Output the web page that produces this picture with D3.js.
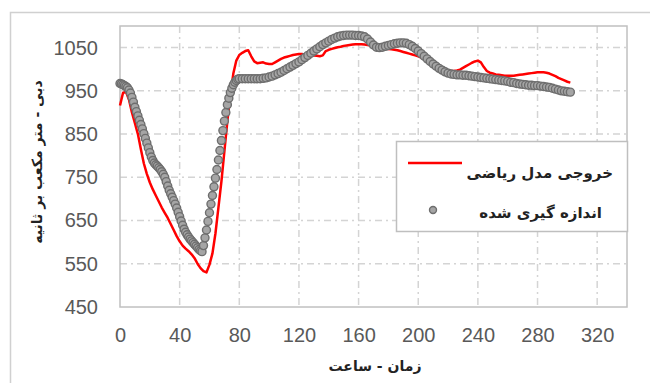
<!DOCTYPE html>
<html>
<head>
<meta charset="utf-8">
<script src="https://cdn.jsdelivr.net/npm/d3@7"></script>
<style>
  body { margin: 0; background: #fff; }
  svg { display: block; }
</style>
</head>
<body>
<section></section>
<script>
// tick values
var xTicks = [0, 40, 80, 120, 160, 200, 240, 280, 320]
var yTicks = [450, 550, 650, 750, 850, 950, 1050]

// measured flow (grey circles): hourly for 0..80 h, then every 2 h from 82 h
var measuredHourly = [967, 966, 964, 962, 960, 957, 952, 945, 935, 924,
  912, 902, 892, 882, 872, 862, 851, 840, 829, 818,
  807, 797, 789, 783, 779, 776, 772, 768, 763, 757,
  750, 740, 730, 720, 712, 704, 696, 688, 679, 669,
  659, 649, 639, 630, 623, 617, 612, 607, 603, 599,
  595, 591, 587, 583, 580, 578, 592, 610, 628, 648,
  668, 688, 708, 728, 748, 768, 790, 812, 835, 858,
  880, 900, 918, 933, 946, 956, 964, 970, 974, 977, 978]
var measuredTwoHourly = [978, 978, 978, 978, 978, 978, 978, 979, 980, 982,
  984, 987, 990, 993, 997, 1001, 1005, 1009, 1013, 1017,
  1022, 1027, 1032, 1037, 1042, 1047, 1052, 1057, 1061, 1065,
  1069, 1072, 1075, 1077, 1078, 1079, 1079, 1079, 1078, 1078,
  1077, 1075, 1070, 1063, 1056, 1051, 1050, 1051, 1053, 1055,
  1057, 1059, 1060, 1061, 1061, 1060, 1057, 1053, 1048, 1042,
  1036, 1030, 1024, 1018, 1012, 1007, 1002, 998, 994, 991,
  989, 988, 987, 987, 986, 986, 985, 984, 983, 982,
  981, 980, 979, 978, 977, 976, 975, 974, 973, 972,
  970, 969, 967, 966, 965, 964, 963, 963, 962, 962,
  961, 960, 959, 958, 956, 954, 952, 950, 949, 948, 947]

// model output (red line), every 2 h from 0 h
var modelFlow = [916, 945, 948, 930, 900, 875, 850, 815, 782, 758,
  738, 722, 708, 694, 680, 668, 656, 642, 628, 614,
  602, 592, 585, 579, 572, 563, 550, 540, 533, 530,
  548, 574, 620, 680, 740, 810, 880, 940, 990, 1020,
  1033, 1038, 1042, 1044, 1030, 1018, 1014, 1015, 1016, 1013,
  1012, 1012, 1016, 1020, 1024, 1027, 1029, 1031, 1033, 1034,
  1035, 1035, 1034, 1033, 1032, 1032, 1031, 1030, 1032, 1042,
  1045, 1047, 1049, 1051, 1052, 1054, 1055, 1056, 1057, 1058,
  1058, 1058, 1057, 1056, 1055, 1054, 1052, 1050, 1049, 1048,
  1047, 1046, 1045, 1044, 1042, 1040, 1038, 1036, 1034, 1032,
  1030, 1027, 1024, 1020, 1017, 1013, 1009, 1005, 1002, 999,
  997, 996, 996, 997, 999, 1003, 1007, 1011, 1015, 1018,
  1020, 1016, 1005, 996, 992, 990, 988, 987, 986, 985,
  985, 985, 985, 986, 987, 988, 989, 990, 991, 992,
  993, 993, 993, 992, 990, 987, 984, 980, 977, 974,
  971, 969]

var legendLabels = ["خروجی مدل ریاضی", "اندازه گیری شده"]

var width = 650
var height = 383
var margin = { top: 26, right: 23, bottom: 76, left: 120 }

var measured = measuredHourly.map(function (v, i) { return { t: i, v: v } })
  .concat(measuredTwoHourly.map(function (v, i) { return { t: 82 + i * 2, v: v } }))
var model = modelFlow.map(function (v, i) { return { t: i * 2, v: v } })

var svg = d3.select("section").append("svg")
  .attr("width", width)
  .attr("height", height)

// outer chart frame
svg.append("rect")
  .attr("x", 10.5).attr("y", 12.5)
  .attr("width", 660).attr("height", 400)
  .attr("fill", "none").attr("stroke", "#d0d0d0").attr("stroke-width", 1.5)

var x = d3.scaleLinear().domain([0, 340]).range([margin.left, width - margin.right])
var y = d3.scaleLinear().domain([450, 1100]).range([height - margin.bottom, margin.top])

// grid (dash-dot)
var grid = svg.append("g").attr("stroke", "#d4d4d4").attr("stroke-width", 1.5)
  .attr("stroke-dasharray", "7,4,2,4")
grid.selectAll(".gx").data(xTicks.slice(1)).enter().append("line")
  .attr("x1", function (d) { return x(d) }).attr("x2", function (d) { return x(d) })
  .attr("y1", y(1100)).attr("y2", y(450))
grid.selectAll(".gy").data(yTicks.slice(1)).enter().append("line")
  .attr("y1", function (d) { return y(d) }).attr("y2", function (d) { return y(d) })
  .attr("x1", x(0)).attr("x2", x(340))

// plot frame
svg.append("rect")
  .attr("x", x(0)).attr("y", y(1100))
  .attr("width", x(340) - x(0)).attr("height", y(450) - y(1100))
  .attr("fill", "none").attr("stroke", "#c0c0c0").attr("stroke-width", 1.5)

// axes
var ejeX = d3.axisBottom(x).tickValues(xTicks).tickFormat(d3.format("d")).tickSize(0).tickPadding(21)
var ejeY = d3.axisLeft(y).tickValues(yTicks).tickFormat(d3.format("d")).tickSize(0).tickPadding(22)

var gx = svg.append("g").attr("transform", "translate(0," + y(450) + ")").call(ejeX)
var gy = svg.append("g").attr("transform", "translate(" + x(0) + ",0)").call(ejeY)
;[gx, gy].forEach(function (g) {
  g.select(".domain").remove()
  g.selectAll("text")
    .attr("font-family", "Liberation Sans, Arial, sans-serif")
    .attr("font-size", 20)
    .attr("fill", "#595959")
})

// model line
svg.append("path")
  .datum(model)
  .attr("fill", "none")
  .attr("stroke", "#ff0000")
  .attr("stroke-width", 2.5)
  .attr("stroke-linejoin", "round")
  .attr("d", d3.line().x(function (d) { return x(d.t) }).y(function (d) { return y(d.v) }))

// measured markers
svg.append("g").selectAll("circle").data(measured).enter().append("circle")
  .attr("cx", function (d) { return x(d.t) })
  .attr("cy", function (d) { return y(d.v) })
  .attr("r", 4)
  .attr("fill", "#a5a5a5")
  .attr("stroke", "#6e6e6e")
  .attr("stroke-width", 1.4)

// legend
var legend = svg.append("g")
legend.append("rect")
  .attr("x", 396.5).attr("y", 141.5).attr("width", 231).attr("height", 90)
  .attr("fill", "#fff").attr("stroke", "#bfbfbf").attr("stroke-width", 1.5)
legend.append("line")
  .attr("x1", 408).attr("x2", 462).attr("y1", 163).attr("y2", 163)
  .attr("stroke", "#ff0000").attr("stroke-width", 2.5)
legend.append("circle")
  .attr("cx", 433).attr("cy", 210).attr("r", 3.5)
  .attr("fill", "#a5a5a5").attr("stroke", "#6e6e6e").attr("stroke-width", 1.4)
legend.selectAll("text").data(legendLabels).enter().append("text")
  .attr("x", function (d, i) { return i === 0 ? 613 : 602 })
  .attr("y", function (d, i) { return i === 0 ? 178 : 218 })
  .attr("text-anchor", "start")
  .attr("direction", "rtl")
  .attr("font-family", "DejaVu Sans, sans-serif")
  .attr("font-weight", "bold")
  .attr("font-size", 15)
  .attr("fill", "#222")
  .text(function (d) { return d })

// axis titles
svg.append("text")
  .attr("x", 375).attr("y", 371)
  .attr("text-anchor", "middle")
  .attr("direction", "rtl")
  .attr("font-family", "DejaVu Sans, sans-serif")
  .attr("font-weight", "bold")
  .attr("font-size", 14)
  .attr("fill", "#222")
  .text("زمان - ساعت")

svg.append("text")
  .attr("transform", "translate(42,162) rotate(-90)")
  .attr("text-anchor", "middle")
  .attr("direction", "rtl")
  .attr("font-family", "DejaVu Sans, sans-serif")
  .attr("font-weight", "bold")
  .attr("font-size", 14)
  .attr("fill", "#222")
  .text("دبی - متر مکعب بر ثانیه")
</script>
</body>
</html>
